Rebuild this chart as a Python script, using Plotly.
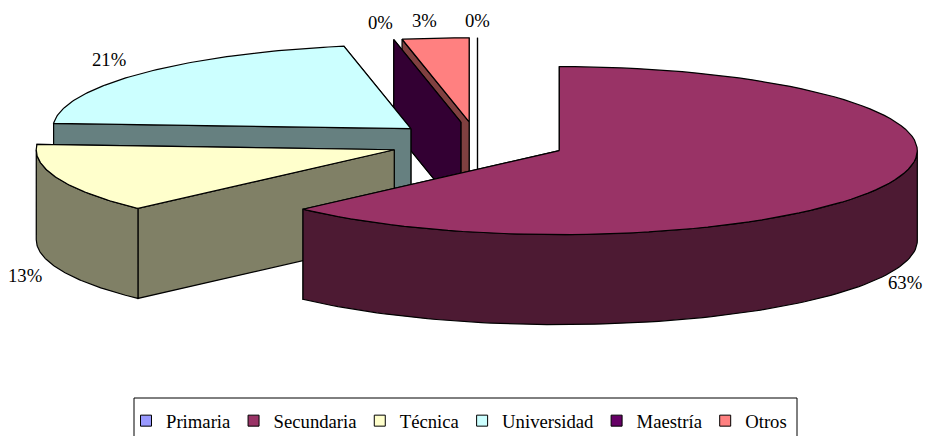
import math
import plotly.graph_objects as go

# --- data ---
categories = ["Primaria", "Secundaria", "Técnica", "Universidad", "Maestría", "Otros"]
percent = [0, 62.7, 13.3, 21, 0, 3]

# --- styles ---
top_colors = ["#9999FF", "#993366", "#FFFFCC", "#CCFFFF", "#660066", "#FF8080"]
side_colors = ["#4D4D80", "#4D1A33", "#808066", "#668080", "#330033", "#804040"]
draw_order = [0, 5, 4, 3, 2, 1]  # back to front

W, H = 939, 440  # slightly taller than the window: the legend frame runs off the bottom edge
CX, CY, RX, RY, DEPTH, EXPLODE = 477.5, 142.5, 358.0, 84.0, 90.0, 0.248
LABEL_XY = [(477, 20), (905, 282), (25, 275), (109, 59), (380, 22), (424, 20)]


def pt(c, t, dz=0.0):
    return c[0] + RX * math.sin(t), c[1] - RY * math.cos(t) + dz


def arc(c, t0, t1, dz=0.0, n=90):
    return [pt(c, t0 + (t1 - t0) * i / n, dz) for i in range(n + 1)]


def poly(points, fill):
    xs = [p[0] for p in points] + [points[0][0]]
    ys = [p[1] for p in points] + [points[0][1]]
    return go.Scatter(x=xs, y=ys, mode="lines", fill="toself", fillcolor=fill,
                      line=dict(color="black", width=1.2), showlegend=False, hoverinfo="skip")


fig = go.Figure()

# slice angle spans, derived from the values
spans = []
acc = 0.0
total = sum(percent)
for v in percent:
    t0 = acc / total * 2 * math.pi
    acc += v
    spans.append((t0, acc / total * 2 * math.pi))

for i in draw_order:
    t0, t1 = spans[i]
    mid = (t0 + t1) / 2
    c = (CX + EXPLODE * RX * math.sin(mid), CY - EXPLODE * RY * math.cos(mid))
    # cut faces: far one first, then near one
    for t in (t1, t0):
        p = pt(c, t)
        q = pt(c, t, DEPTH)
        fig.add_trace(poly([c, p, q, (c[0], c[1] + DEPTH)], side_colors[i]))
    # outer wall: the part of the rim that faces the viewer
    a, b = max(t0, math.pi / 2), min(t1, 3 * math.pi / 2)
    if b > a:
        fig.add_trace(poly(arc(c, a, b) + arc(c, b, a, DEPTH), side_colors[i]))
    # top surface
    if t1 > t0:
        fig.add_trace(poly([c] + arc(c, t0, t1), top_colors[i]))

# legend entries
for name, col in zip(categories, top_colors):
    fig.add_trace(go.Scatter(x=[None], y=[None], mode="markers", name=name,
                             marker=dict(symbol="square", size=11, color=col,
                                         line=dict(color="black", width=1))))

annotations = [
    dict(x=x, y=y, text=f"{v:.0f}%", showarrow=False, xref="x", yref="y",
         font=dict(family="Liberation Serif", size=18.7, color="black"))
    for (x, y), v in zip(LABEL_XY, percent)
]

fig.update_layout(
    width=W, height=H, margin=dict(l=0, r=0, t=0, b=0),
    paper_bgcolor="white", plot_bgcolor="white",
    xaxis=dict(range=[0, W], visible=False, fixedrange=True),
    yaxis=dict(range=[H, 0], visible=False, fixedrange=True),
    annotations=annotations,
    showlegend=True,
    legend=dict(orientation="h", x=128.5 / W, xanchor="left",
                y=0, yanchor="bottom", indentation=-2.5,
                font=dict(family="Liberation Serif", size=18.7, color="black"),
                bgcolor="rgba(0,0,0,0)", borderwidth=0),
    shapes=[dict(type="rect", xref="x", yref="paper", x0=134, x1=797,
                 y0=1 - 398 / H, y1=-0.05,
                 line=dict(color="black", width=1), fillcolor="rgba(0,0,0,0)", layer="below")],
)

fig.write_html("out.html",
               post_script="document.body.style.margin='0';document.documentElement.style.overflow='hidden';",
               config={"displayModeBar": False})
